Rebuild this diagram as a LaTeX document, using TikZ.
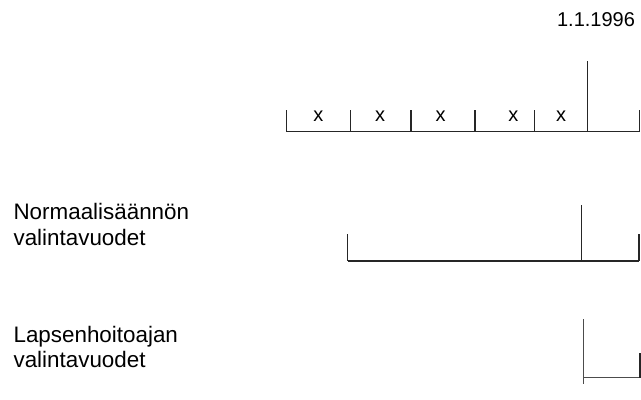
\documentclass[tikz,border=0pt]{standalone}
\usepackage{fontspec}
\setmainfont{Liberation Sans}
\usetikzlibrary{positioning}

\tikzset{
  yearline/.style={line width=1.1pt, draw=black!85},
  label/.style={anchor=base west, inner sep=0pt, align=left,
    font=\fontsize{16.8}{18.8}\selectfont},
  xmark/.style={anchor=base, inner sep=0pt, font=\fontsize{15}{16}\selectfont},
}

\begin{document}
\begin{tikzpicture}[x=0.75pt, y=-0.75pt]
    \useasboundingbox (0,0) rectangle (641,399);

    % aikajana
    \coordinate (a0) at (286.7,131.7);
    \coordinate (a1) at (350.7,131.7);
    \coordinate (a2) at (411,131.7);
    \coordinate (a3) at (475,131.7);
    \coordinate (a4) at (534.3,131.7);
    \coordinate (a5) at (587.7,131.7);
    \coordinate (a6) at (639.3,131.7);
    \coordinate (t0) at (286.7,110);
    \coordinate (t1) at (350.7,110);
    \coordinate (t2) at (411,110);
    \coordinate (t3) at (475,110);
    \coordinate (t4) at (534.3,110);
    \coordinate (t5) at (587.7,61);
    \coordinate (t6) at (639.3,110);

    \node[inner sep=0pt, anchor=base, font=\fontsize{15}{16}\selectfont] (paiva) at (596,26.5) {1.1.1996};

    \draw[yearline] (a0) -- (a6);
    \draw[yearline] (a0) -- (t0);
    \draw[yearline] (a1) -- (t1);
    \draw[yearline] (a2) -- (t2);
    \draw[yearline] (a3) -- (t3);
    \draw[yearline] (a4) -- (t4);
    \draw[yearline] (a5) -- (t5);
    \draw[yearline] (a6) -- (t6);

    \node[xmark] (x1) at (318.3,121.7) {x};
    \node[xmark] (x2) at (380,121.7)   {x};
    \node[xmark] (x3) at (440.7,121.7) {x};
    \node[xmark] (x4) at (513.3,121.7) {x};
    \node[xmark] (x5) at (561,121.7)   {x};

    % normaalisaanto
    \node[label] (normaali) at (13.3,245) {Normaalisäännön\\valintavuodet};
    \coordinate (n0) at (347.7,260.7);
    \coordinate (n1) at (581.7,260.7);
    \coordinate (n2) at (639,260.7);
    \coordinate (m0) at (347.7,234.3);
    \coordinate (m1) at (581.7,205);
    \coordinate (m2) at (639,234.3);
    \draw[yearline, line width=1.4pt] (n0) -- (n2);
    \draw[yearline] (n0) -- (m0);
    \draw[yearline] (n1) -- (m1);
    \draw[yearline] (n2) -- (m2);

    % lapsenhoitoaika
    \node[label] (lapsen) at (13.3,367.3) {Lapsenhoitoajan\\valintavuodet};
    \coordinate (l0) at (583.3,377.7);
    \coordinate (l1) at (640,377.7);
    \coordinate (k0) at (583.3,319);
    \coordinate (k1) at (583.3,384);
    \coordinate (k2) at (640,353.3);
    \draw[yearline, draw=black!70] (k0) -- (k1);
    \draw[yearline, draw=black!70] (l0) -- (l1);
    \draw[yearline] (l1) -- (k2);
\end{tikzpicture}
\end{document}
